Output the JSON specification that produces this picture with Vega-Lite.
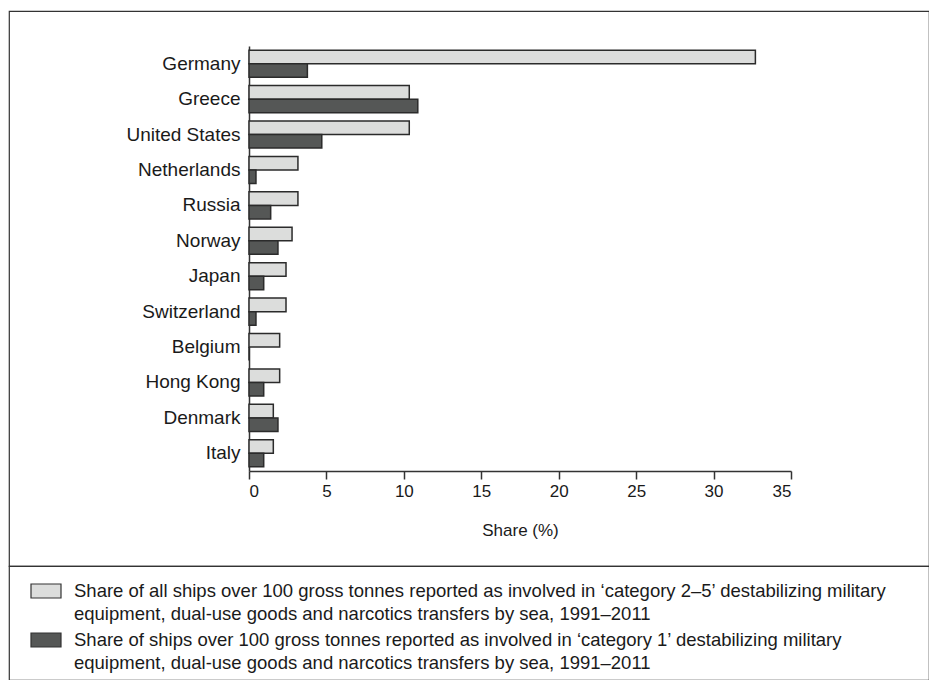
{
  "$schema": "https://vega.github.io/schema/vega-lite/v6.json",
  "background": "white",
  "padding": {"left": 8, "top": 10, "right": 0, "bottom": 0},
  "spacing": 0,
  "bounds": "flush",
  "config": {
    "view": {"stroke": "#333333", "strokeWidth": 1.2},
    "font": "Liberation Sans",
    "style": {"guide-label": {"lineHeight": 23}}
  },
  "resolve": {"scale": {"color": "independent"}, "legend": {"color": "independent"}},
  "vconcat": [
    {
      "width": 920,
      "height": 555,
      "data": {
        "values": [
          {"country": "Germany", "series": "A", "share": 32.7},
          {"country": "Germany", "series": "B", "share": 3.77},
          {"country": "Greece", "series": "A", "share": 10.35},
          {"country": "Greece", "series": "B", "share": 10.9},
          {"country": "United States", "series": "A", "share": 10.35},
          {"country": "United States", "series": "B", "share": 4.7},
          {"country": "Netherlands", "series": "A", "share": 3.16},
          {"country": "Netherlands", "series": "B", "share": 0.45},
          {"country": "Russia", "series": "A", "share": 3.16},
          {"country": "Russia", "series": "B", "share": 1.4},
          {"country": "Norway", "series": "A", "share": 2.78},
          {"country": "Norway", "series": "B", "share": 1.87},
          {"country": "Japan", "series": "A", "share": 2.39},
          {"country": "Japan", "series": "B", "share": 0.95},
          {"country": "Switzerland", "series": "A", "share": 2.39},
          {"country": "Switzerland", "series": "B", "share": 0.45},
          {"country": "Belgium", "series": "A", "share": 1.98},
          {"country": "Belgium", "series": "B", "share": 0},
          {"country": "Hong Kong", "series": "A", "share": 1.98},
          {"country": "Hong Kong", "series": "B", "share": 0.95},
          {"country": "Denmark", "series": "A", "share": 1.57},
          {"country": "Denmark", "series": "B", "share": 1.87},
          {"country": "Italy", "series": "A", "share": 1.57},
          {"country": "Italy", "series": "B", "share": 0.95}
        ]
      },
      "mark": {"type": "bar", "stroke": "#2b2b2b", "strokeWidth": 1.5},
      "encoding": {
        "y": {
          "field": "country",
          "type": "nominal",
          "sort": ["Germany", "Greece", "United States", "Netherlands", "Russia", "Norway", "Japan", "Switzerland", "Belgium", "Hong Kong", "Denmark", "Italy"],
          "scale": {"range": [35, 460], "paddingInner": 0.237, "paddingOuter": 0.1185},
          "axis": {
            "title": null,
            "offset": -240,
            "ticks": false,
            "domainColor": "#333333",
            "domainWidth": 1.5,
            "labelFontSize": 19,
            "labelColor": "#1a1a1a",
            "labelPadding": 9,
            "labelLimit": 300
          }
        },
        "yOffset": {
          "field": "series",
          "type": "nominal",
          "sort": ["A", "B"],
          "scale": {"paddingInner": 0, "paddingOuter": 0}
        },
        "x": {
          "field": "share",
          "type": "quantitative",
          "scale": {"domain": [0, 35], "range": [240, 782], "nice": false, "zero": true},
          "axis": {
            "title": "Share (%)",
            "offset": -95,
            "values": [0, 5, 10, 15, 20, 25, 30, 35],
            "grid": false,
            "tickSize": 8,
            "tickColor": "#333333",
            "tickWidth": 1.5,
            "domainColor": "#333333",
            "domainWidth": 1.5,
            "labelFontSize": 17,
            "labelColor": "#1a1a1a",
            "labelPadding": 4,
            "titleFontSize": 17,
            "titleFontWeight": "normal",
            "titleColor": "#1a1a1a",
            "titlePadding": 23
          }
        },
        "color": {
          "field": "series",
          "type": "nominal",
          "scale": {"domain": ["A", "B"], "range": ["#dcdddc", "#555756"]},
          "legend": null
        }
      }
    },
    {
      "width": 920,
      "height": 114,
      "view": {"stroke": "#333333", "strokeWidth": 1.2, "fill": "white"},
      "data": {
        "values": [
          {"series": "Share of all ships over 100 gross tonnes reported as involved in ‘category 2–5’ destabilizing military\nequipment, dual-use goods and narcotics transfers by sea, 1991–2011"},
          {"series": "Share of ships over 100 gross tonnes reported as involved in ‘category 1’ destabilizing military\nequipment, dual-use goods and narcotics transfers by sea, 1991–2011"}
        ]
      },
      "mark": {"type": "point", "filled": true, "opacity": 0, "size": 0},
      "encoding": {
        "color": {
          "field": "series",
          "type": "nominal",
          "sort": [
            "Share of all ships over 100 gross tonnes reported as involved in ‘category 2–5’ destabilizing military\nequipment, dual-use goods and narcotics transfers by sea, 1991–2011",
            "Share of ships over 100 gross tonnes reported as involved in ‘category 1’ destabilizing military\nequipment, dual-use goods and narcotics transfers by sea, 1991–2011"
          ],
          "scale": {"range": ["#dcdddc", "#555756"]},
          "legend": {
            "orient": "none",
            "legendX": 21,
            "legendY": 9,
            "title": null,
            "padding": 0,
            "direction": "vertical",
            "symbolType": "M-1,-0.467H1V0.467H-1Z",
            "symbolSize": 900,
            "symbolOpacity": 1,
            "symbolStrokeColor": "#333333",
            "symbolStrokeWidth": 1.2,
            "labelExpr": "split(datum.label, '\\n')",
            "labelFontSize": 18.5,
            "labelColor": "#1a1a1a",
            "labelLimit": 0,
            "labelOffset": 12,
            "labelBaseline": "middle",
            "rowPadding": 0
          }
        }
      }
    }
  ]
}
